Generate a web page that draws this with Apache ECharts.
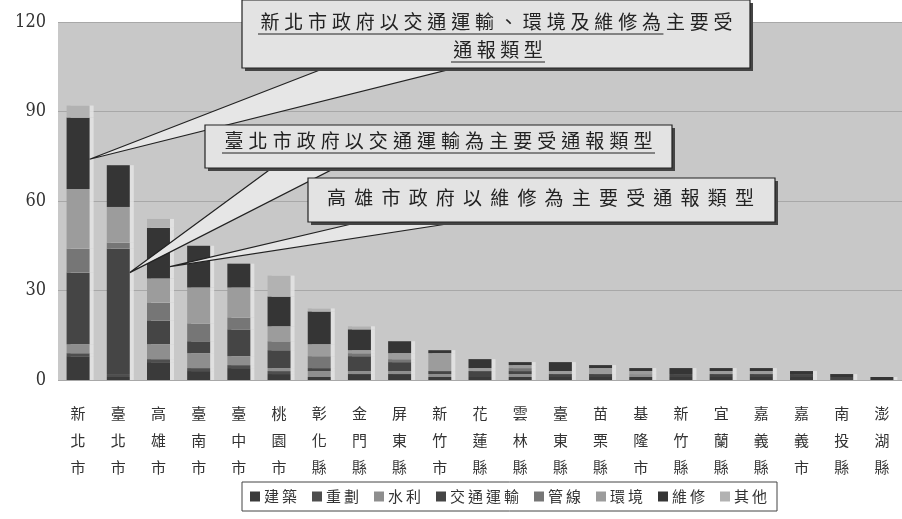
<!DOCTYPE html>
<html>
<head>
<meta charset="utf-8">
<script src="https://cdn.jsdelivr.net/npm/echarts@6/dist/echarts.min.js"></script>
<style>html,body{margin:0;padding:0;background:#fff}#c{width:902px;height:519px}</style>
</head>
<body>
<div id="c"></div>
<script>
const categories = ['新北市','臺北市','高雄市','臺南市','臺中市','桃園市','彰化縣','金門縣','屏東縣','新竹市','花蓮縣','雲林縣','臺東縣','苗栗縣','基隆市','新竹縣','宜蘭縣','嘉義縣','嘉義市','南投縣','澎湖縣'];
const seriesNames = ['建築','重劃','水利','交通運輸','管線','環境','維修','其他'];
const jianzhu   = [8,1,6,3,4,2,1,2,2,1,1,1,1,1,1,1,1,1,1,0,0];
const chonghua  = [1,1,1,1,1,1,0,0,0,0,0,0,0,0,0,0,0,0,0,0,0];
const shuili    = [3,0,5,5,3,1,2,1,1,1,0,1,0,0,1,0,0,0,0,0,0];
const jiaotong  = [24,42,8,4,9,6,1,5,3,1,2,1,1,1,0,1,1,1,1,1,0];
const guanxian  = [8,2,6,6,4,3,4,1,1,0,0,1,0,0,0,0,0,0,0,0,0];
const huanjing  = [20,12,8,12,10,5,4,1,2,6,1,1,1,2,1,0,1,1,0,0,0];
const weixiu    = [24,14,17,14,8,10,11,7,4,1,3,1,3,1,1,2,1,1,1,1,1];
const qita      = [4,0,3,0,0,7,1,1,0,0,0,0,0,0,0,0,0,0,0,0,0];
const yTicks = [0,30,60,90,120];
const seriesData = [jianzhu,chonghua,shuili,jiaotong,guanxian,huanjing,weixiu,qita];
const colors = ['#3a3a3a','#4e4e4e','#8e8e8e','#454545','#767676','#9c9c9c','#353535','#b2b2b2'];

const callouts = [
  {lines:['新北市政府以交通運輸、環境及維修為主要受','通報類型'], cat:'新北市', value:74},
  {lines:['臺北市政府以交通運輸為主要受通報類型'], cat:'臺北市', value:36},
  {lines:['高雄市政府以維修為主要受通報類型'], cat:'高雄市', value:38}
];

const chart = echarts.init(document.getElementById('c'));
const BAR_W = 23;
const font = '"Noto Sans CJK TC"';
chart.setOption({
  animation:false,
  backgroundColor:'#ffffff',
  grid:{left:58,right:0,top:22,bottom:139,show:true,backgroundColor:'#c8c8c8',borderWidth:0},
  xAxis:{type:'category',data:categories,
    axisLine:{show:false},axisTick:{show:false},
    axisLabel:{interval:0,margin:20,fontSize:15,lineHeight:27,color:'#333',fontFamily:font,
      formatter:v=>v.split('').join('\n')}},
  yAxis:{type:'value',min:yTicks[0],max:yTicks[yTicks.length-1],interval:30,
    axisLine:{show:false},axisTick:{show:false},
    axisLabel:{fontSize:18,color:'#333',margin:12,fontFamily:'"DejaVu Serif Condensed","Liberation Serif",serif'},
    splitLine:{lineStyle:{color:'#a8a8a8',width:1}}},
  legend:{data:seriesNames,left:242,top:482,width:560,itemWidth:10,itemHeight:10,itemGap:15,
    padding:[7,10,7,8],borderColor:'#444',borderWidth:1,icon:'rect',
    formatter:n=>n.split('').join('\u2009'),
    textStyle:{fontSize:15,color:'#333',fontFamily:font,padding:[0,0,0,-1]}},
  series:seriesNames.map((n,i)=>({name:n,type:'bar',stack:'a',barWidth:BAR_W,data:seriesData[i],
    itemStyle:{color:colors[i],shadowColor:'rgba(228,228,228,0.85)',shadowOffsetX:4,shadowBlur:0}}))
});

const boxes = [
  {x:242,y:0,w:508,h:68, rows:[{y:22,x0:258,x1:735,ul:true},{y:50,x0:451,x1:545,ul:true}], base:[[325,68],[455,68]]},
  {x:205,y:125,w:467,h:43, rows:[{y:141,x0:222,x1:655,ul:true}], base:[[272,168],[335,168]]},
  {x:308,y:178,w:467,h:44, rows:[{y:198,x0:323,x1:758,ul:false}], base:[[360,222],[460,222]]}
];
const g = [];
callouts.forEach((c,k)=>{
  const b = boxes[k];
  const p = chart.convertToPixel({xAxisIndex:0,yAxisIndex:0},[categories.indexOf(c.cat),c.value]);
  const tip = [p[0]+BAR_W/2, p[1]];
  g.push({type:'polygon',z:100,shape:{points:[b.base[0],tip,b.base[1]]},style:{fill:'#e6e6e6',stroke:'#222',lineWidth:1.2}});
  g.push({type:'rect',z:101,shape:{x:b.x+3,y:b.y+3,width:b.w,height:b.h},style:{fill:'#444'}});
  g.push({type:'rect',z:102,shape:{x:b.x,y:b.y,width:b.w,height:b.h},style:{fill:'#e3e3e3',stroke:'#222',lineWidth:1.2}});
  c.lines.forEach((ln,r)=>{
    const row = b.rows[r];
    const chars = ln.split('');
    const step = (row.x1-row.x0)/chars.length;
    chars.forEach((ch,j)=>{
      g.push({type:'text',z:103,style:{text:ch,x:row.x0+step*(j+0.5),y:row.y,align:'center',verticalAlign:'middle',
        font:'19px '+font,fill:'#222'}});
    });
    if(row.ul){
      g.push({type:'line',z:103,shape:{x1:row.x0,y1:row.y+12,x2:(r===0&&k===0)?row.x0+step*17:row.x1,y2:row.y+12},style:{stroke:'#222',lineWidth:1}});
    }
  });
});
chart.setOption({graphic:g});
</script>
</body>
</html>
